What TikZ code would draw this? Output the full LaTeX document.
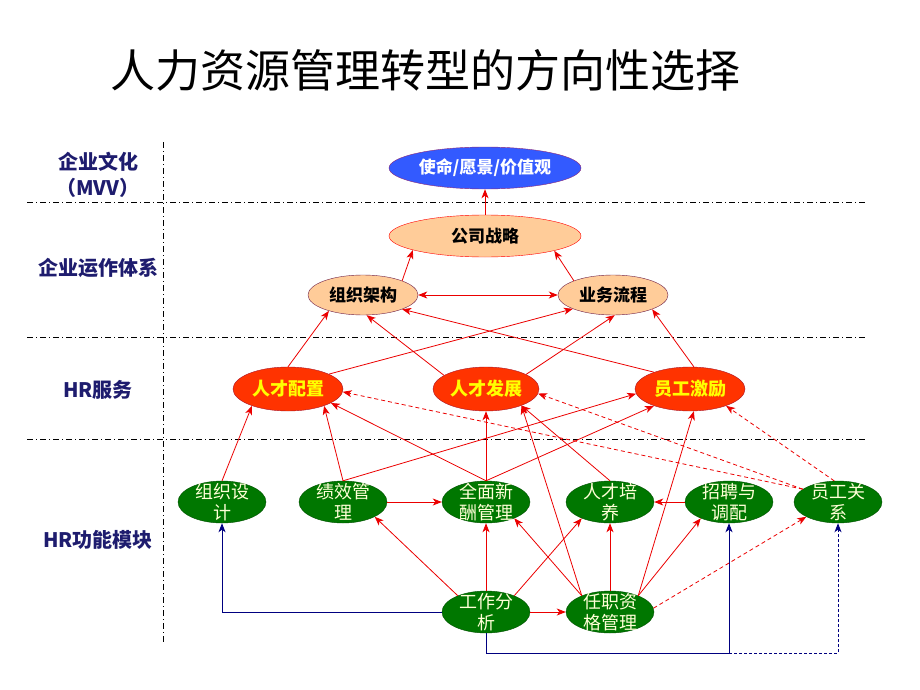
\documentclass[tikz,border=0pt]{standalone}
\usepackage{fontspec}
\setmainfont{Noto Sans CJK SC}
\usetikzlibrary{shapes.geometric,arrows.meta}

\definecolor{lblnavy}{RGB}{30,28,110}
\definecolor{mvvblue}{RGB}{51,90,255}
\definecolor{mvvedge}{RGB}{140,40,120}
\definecolor{peach}{RGB}{255,204,153}
\definecolor{opsedge}{RGB}{110,30,70}
\definecolor{svcred}{RGB}{255,51,0}
\definecolor{svcedge}{RGB}{170,20,40}
\definecolor{svcyellow}{RGB}{255,255,0}
\definecolor{modgreen}{RGB}{0,119,0}
\definecolor{modedge}{RGB}{0,80,0}
\definecolor{modtext}{RGB}{255,255,215}
\definecolor{linkred}{RGB}{235,0,0}
\definecolor{linknavy}{RGB}{0,0,128}

\begin{document}
\begin{tikzpicture}[x=1pt,y=-1pt,
    tip/.style={-{Stealth[length=9pt,width=7pt,inset=2.5pt]}},
    twotip/.style={{Stealth[length=9pt,width=7pt,inset=2.5pt]}-{Stealth[length=9pt,width=7pt,inset=2.5pt]}},
    link/.style={draw=linkred,line width=0.8pt,tip},
    softlink/.style={link,dash pattern=on 4pt off 3pt},
    navylink/.style={draw=linknavy,line width=1pt,tip},
    divider/.style={line width=0.7pt,dash pattern=on 6pt off 3pt on 1pt off 3pt},
    layer/.style={text=lblnavy,font=\bfseries\fontsize{20}{26}\selectfont,align=center},
    culture/.style={ellipse,draw=mvvedge,fill=mvvblue,text=white,
      font=\bfseries\fontsize{17}{20}\selectfont,minimum width=192,minimum height=42,inner sep=0pt},
    ops/.style={ellipse,draw=opsedge,fill=peach,
      font=\bfseries\fontsize{17}{20}\selectfont,minimum width=110,minimum height=40,inner sep=0pt},
    svc/.style={ellipse,draw=svcedge,fill=svcred,text=svcyellow,
      font=\bfseries\fontsize{18}{20}\selectfont,minimum width=110,minimum height=44,inner sep=0pt},
    module/.style={ellipse,draw=modedge,fill=modgreen,text=modtext,align=center,
      font=\fontsize{18}{21}\selectfont,minimum width=88,minimum height=42,inner xsep=0pt,inner ysep=-6pt}]

  \useasboundingbox (0,0) rectangle (920,690);

  \node[font=\fontsize{45}{50}\selectfont] (title) at (425,70) {人力资源管理转型的方向性选择};

  % layer grid
  \draw[divider] (163,142) -- (163,645);
  \draw[divider] (27,202) -- (868,202);
  \draw[divider] (27,337) -- (868,337);
  \draw[divider] (27,439) -- (868,439);

  \node[layer] (lmvv) at (98,175) {企业文化\\（MVV）};
  \node[layer] (lops) at (98,268) {企业运作体系};
  \node[layer] (lsvc) at (98,390) {HR服务};
  \node[layer] (lmod) at (98,540) {HR功能模块};

  % culture and operations
  \node[culture] (mvv) at (485,168) {使命/愿景/价值观};
  \node[ops,draw=red,minimum width=192,minimum height=42] (zl) at (485,236) {公司战略};
  \node[ops] (jg) at (363,295) {组织架构};
  \node[ops] (lc) at (613,295) {业务流程};

  % HR services
  \node[svc] (pz) at (288,389) {人才配置};
  \node[svc,minimum width=106] (fz) at (486,389) {人才发展};
  \node[svc] (jl) at (690,389) {员工激励};

  % HR modules
  \node[module] (sj) at (222,502) {组织设\\计};
  \node[module] (jx) at (343,502) {绩效管\\理};
  \node[module] (xc) at (486,502) {全面新\\酬管理};
  \node[module] (py) at (610,502) {人才培\\养};
  \node[module] (zp) at (729,502) {招聘与\\调配};
  \node[module] (gx) at (838,502) {员工关\\系};
  \node[module] (fx) at (486,612) {工作分\\析};
  \node[module] (zg) at (610,612) {任职资\\格管理};

  \draw[link] (zl) -- (mvv);
  \draw[link] (jg.20) -- (zl.191);
  \draw[link] (lc.160) -- (zl.-12);
  \draw[link,twotip] (jg) -- (lc);

  \draw[link] (pz.north) -- (jg.205);
  \draw[link] (pz.20) -- (lc.199);
  \draw[link] (fz.162) -- (jg.280);
  \draw[link] (fz.20) -- (lc.275);
  \draw[link] (jl.155) -- (jg.340);
  \draw[link] (jl.80) -- (lc.340);

  \draw[link] (sj.north) -- (pz.205);
  \draw[link] (jx.north) -- (pz.-25);
  \draw[link] (jx.north) -- (jl.185);
  \draw[link] (xc.north) -- (pz.-18);
  \draw[link] (xc.north) -- (fz);
  \draw[link] (xc.north) -- (jl.205);
  \draw[link] (py.north) -- (fz.-25);
  \draw[link] (zg.150) -- (fz.-25);
  \draw[link] (zg.30) -- (jl.-80);
  \draw[softlink] (gx.160) -- (pz.-3);
  \draw[softlink] (gx.160) -- (fz.-5);
  \draw[softlink] (gx.100) -- (jl.-25);

  \draw[link] (jx) -- (xc);
  \draw[link] (zp) -- (py);
  \draw[link] (fx.150) -- (jx.-25);
  \draw[link] (fx) -- (xc);
  \draw[link] (fx.30) -- (py.210);
  \draw[link] (fx) -- (zg);
  \draw[link] (zg.150) -- (xc.-30);
  \draw[link] (zg) -- (py);
  \draw[link] (zg.30) -- (zp.210);
  \draw[softlink] (zg.5) -- (gx.205);

  % job analysis feeds
  \coordinate (floor) at (486,653);
  \draw[navylink] (fx.west) -| (sj.south);
  \draw[navylink] (fx.south) -- (floor) -| (zp.south);
  \draw[navylink,dash pattern=on 3pt off 2pt] (zp.south |- floor) -| (gx.south);
\end{tikzpicture}
\end{document}
